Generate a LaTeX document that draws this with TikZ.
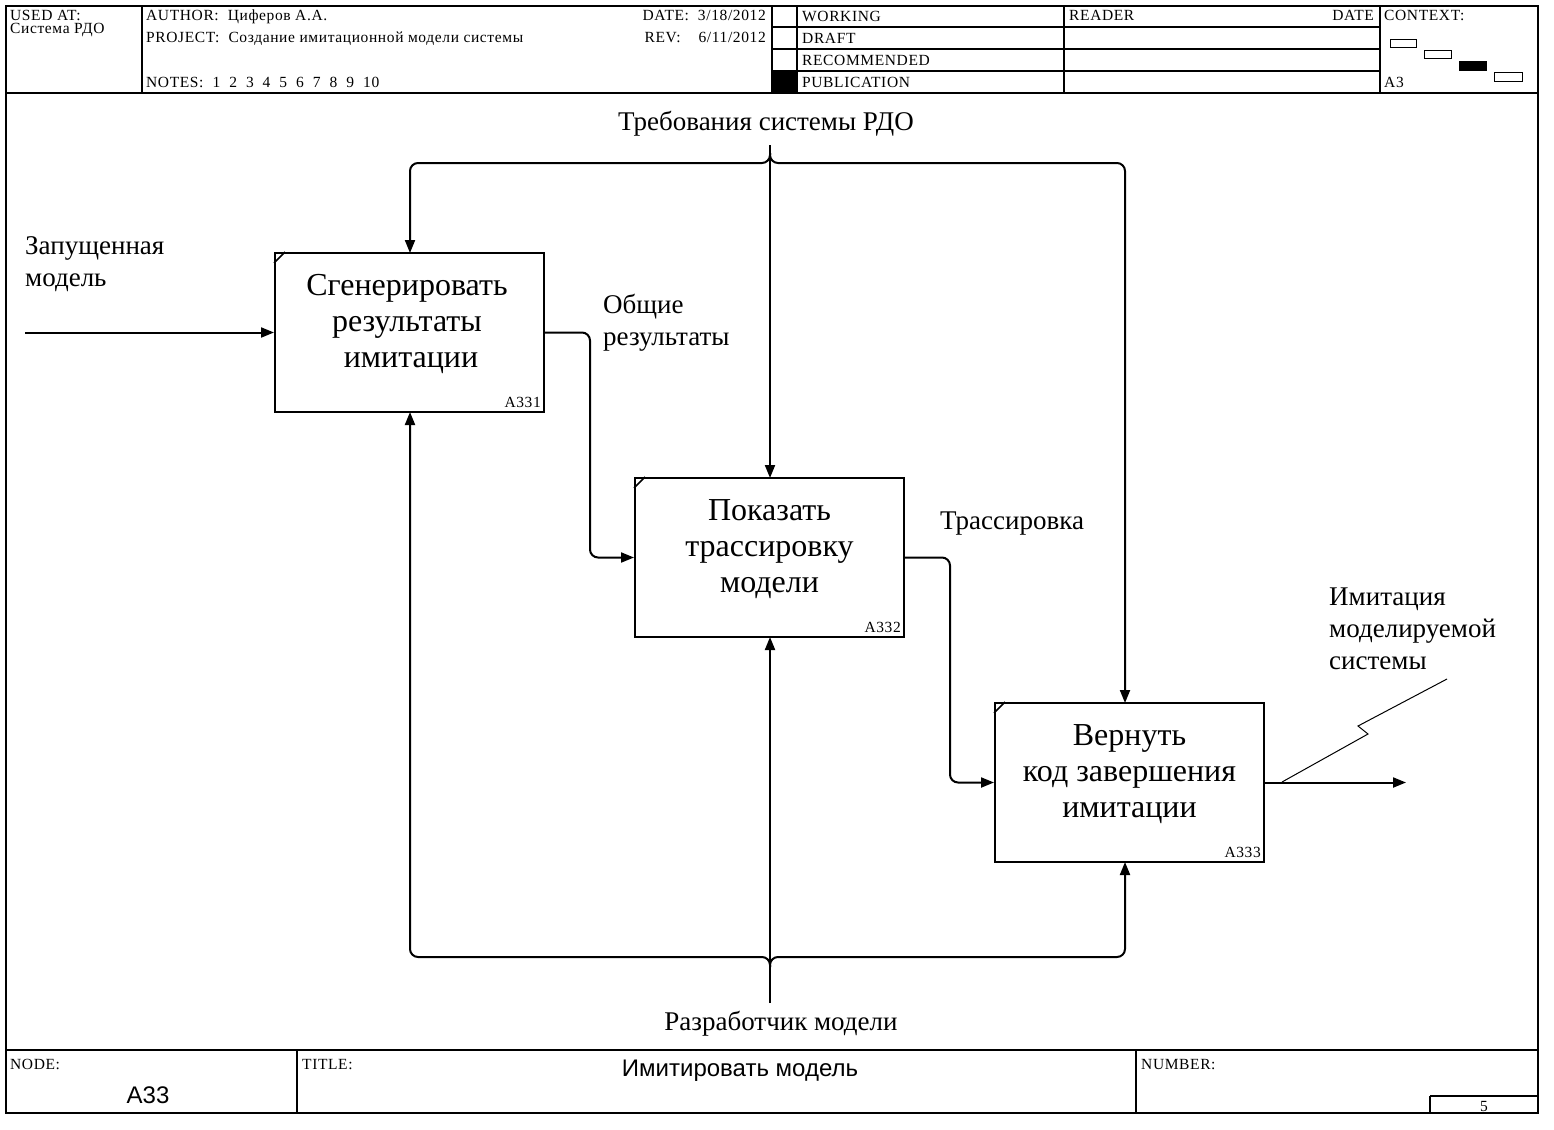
\documentclass[tikz,border=0pt]{standalone}
\usepackage{fontspec}
\setmainfont{Liberation Serif}
\newfontfamily\arialfont{Liberation Sans}
\newfontfamily\formfont[LetterSpace=4]{Liberation Serif}
\usetikzlibrary{arrows.meta,calc}

\begin{document}
\begin{tikzpicture}[x=1pt,y=-1pt,
  rule/.style={line width=1.2pt},
  small/.style={font=\formfont\fontsize{15.5}{17}\selectfont, inner sep=0pt},
  func/.style={draw, line width=2pt, minimum width=269pt, minimum height=159pt, inner sep=0pt},
  functext/.style={font=\fontsize{32}{36}\selectfont, align=center, inner sep=0pt},
  lab/.style={font=\fontsize{27}{32}\selectfont, align=left, inner sep=0pt},
  flow/.style={line width=2pt, rounded corners=8pt},
  tip/.style={-{Triangle[length=13pt,width=10pt]}},
  sans/.style={font=\arialfont\fontsize{24}{26}\selectfont, inner sep=0pt},
]
\useasboundingbox (0,0) rectangle (1554,1129);
\fill[white] (0,0) rectangle (1554,1129);

% ---------- outer frame and header ----------
\draw[rule] (6,6) rectangle (1538,1113);
\draw[rule] (6,93) -- (1538,93);
\draw[rule] (142,6) -- (142,93);
\draw[rule] (772,6) -- (772,93);
\draw[rule] (797,6) -- (797,93);
\draw[rule] (1064,6) -- (1064,93);
\draw[rule] (1380,6) -- (1380,93);
\foreach \yy in {27,49,71} \draw[rule] (772,\yy) -- (1380,\yy);
\fill (772,71) rectangle (797,93);

\node[small, anchor=base west] (usedat) at (10,21) {USED AT:};
\node[small, anchor=base west] (usedsys) at (10,34) {Система РДО};
\node[small, anchor=base west] (author) at (146,21) {AUTHOR:\ \ Циферов А.А.};
\node[small, anchor=base west] (project) at (146,43) {PROJECT:\ \ Создание имитационной модели системы};
\node[small, anchor=base west] (notes) at (146,88) {NOTES:\ \ 1\ \ 2\ \ 3\ \ 4\ \ 5\ \ 6\ \ 7\ \ 8\ \ 9\ \ 10};
\node[small, anchor=base east] (date) at (766,21) {DATE:\ \ 3/18/2012};
\node[small, anchor=base east] (rev) at (766,43) {REV:\ \ \ \ 6/11/2012};
\node[small, anchor=base west] (working) at (802,22) {WORKING};
\node[small, anchor=base west] (draft) at (802,44) {DRAFT};
\node[small, anchor=base west] (recom) at (802,66) {RECOMMENDED};
\node[small, anchor=base west] (publ) at (802,88) {PUBLICATION};
\node[small, anchor=base west] (reader) at (1069,21) {READER};
\node[small, anchor=base east] (rdate) at (1374,21) {DATE};
\node[small, anchor=base west] (context) at (1384,21) {CONTEXT:};
\node[small, anchor=base west] (ctxa) at (1384,88) {A3};
\draw[line width=1pt] (1390,40) rectangle (1416,48);
\draw[line width=1pt] (1424,51) rectangle (1451,59);
\draw[line width=1pt, fill=black] (1459,62) rectangle (1486,71);
\draw[line width=1pt] (1494,73) rectangle (1522,82);

% ---------- footer ----------
\draw[rule] (6,1050) -- (1538,1050);
\draw[rule] (297,1050) -- (297,1113);
\draw[rule] (1136,1050) -- (1136,1113);
\draw[rule] (1430,1096) -- (1538,1096);
\draw[rule] (1430,1096) -- (1430,1113);
\node[small, anchor=base west] (nodelbl) at (10,1069) {NODE:};
\node[small, anchor=base west] (titlelbl) at (302,1069) {TITLE:};
\node[small, anchor=base west] (numlbl) at (1141,1069) {NUMBER:};
\node[sans, anchor=base] (nodeid) at (148,1103) {A33};
\node[sans, anchor=base] (title) at (740,1076) {Имитировать модель};
\node[small, anchor=base] (pageno) at (1484,1111) {5};

% ---------- function boxes ----------
\node[func] (g) at (409.5,332.5) {};
\node[func] (p) at (769.5,557.5) {};
\node[func] (v) at (1129.5,782.5) {};
\foreach \b/\n in {g/A331,p/A332,v/A333}{
  \draw[line width=1.5pt] ($(\b.north west)+(0,11)$) -- ($(\b.north west)+(11,0)$);
  \node[small, anchor=base east] at ($(\b.south east)+(-4,-6)$) {\n};
}
\node[functext] (gt) at (407,324) {Сгенерировать\\результаты\\\ имитации};
\node[functext] (pt) at (769.5,549) {Показать\\трассировку\\модели};
\node[functext] (vt) at (1129.5,774) {Вернуть\\код завершения\\имитации};

% ---------- free ends ----------
\coordinate (inA) at (25,332.5);
\coordinate (ctlTop) at (770,145);
\coordinate (mechBot) at (770,1003);
\coordinate (outEnd) at (1406,782.5);

% ---------- inputs and outputs ----------
\draw[flow, tip] (inA) -- (g.west);
\draw[flow, tip] (g.east) -- (590,332.5) |- (p.west);
\draw[flow, tip] (p.east) -- (950,557.5) |- (v.west);
\draw[flow, tip] (v.east) -- (outEnd);

% ---------- controls ----------
\draw[flow, tip] (ctlTop) -- (770,478);
\draw[flow, tip] (770,153) -- (770,163) -- (410,163) -- (410,253);
\draw[flow, tip] (770,153) -- (770,163) -- (1125,163) -- (1125,703);

% ---------- mechanisms ----------
\draw[flow, tip] (mechBot) -- (770,637);
\draw[flow, tip] (770,967) -- (770,957) -- (410,957) -- (410,412);
\draw[flow, tip] (770,967) -- (770,957) -- (1125,957) -- (1125,862);

% ---------- squiggle to output label ----------
\draw[line width=1pt] (1447,679) -- (1358,726) -- (1368,734) -- (1282,782);

% ---------- arrow labels (base = last line) ----------
\node[lab, anchor=base west] (inlbl) at (25,286) {Запущенная\\модель};
\node[lab, anchor=base west] (genlbl) at (603,345) {Общие\\результаты};
\node[lab, anchor=base west] (trlbl) at (940,529) {Трассировка};
\node[lab, anchor=base] (ctllbl) at (766,131) {Требования системы РДО};
\node[lab, anchor=base] (mechlbl) at (781,1030) {Разработчик модели};
\node[lab, anchor=base west] (outlbl) at (1329,669) {Имитация\\моделируемой\\системы};
\end{tikzpicture}
\end{document}
